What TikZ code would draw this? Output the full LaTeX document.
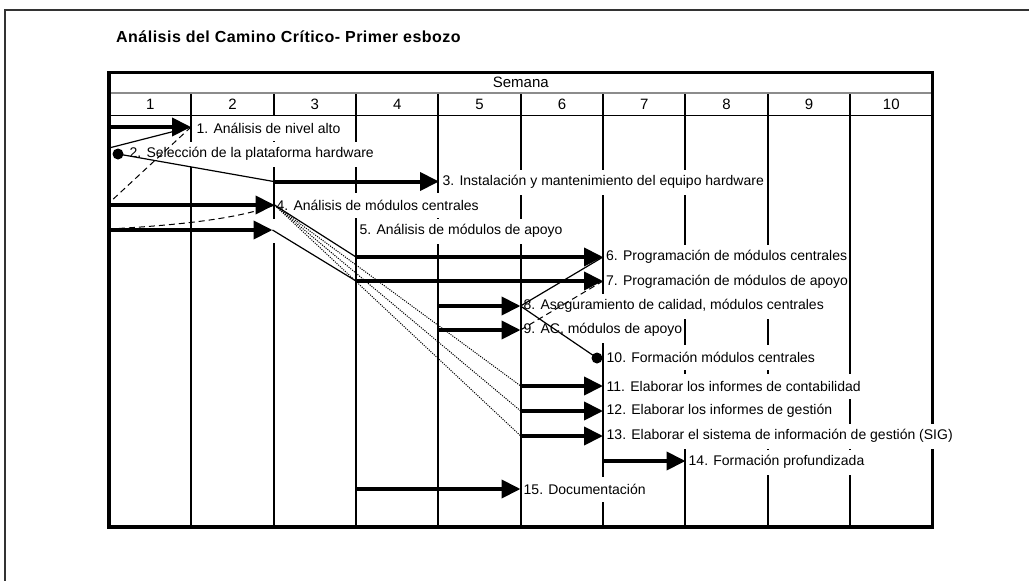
\documentclass[tikz,border=0pt]{standalone}
\usepackage{fontspec}
\setmainfont{Liberation Sans}
\usetikzlibrary{arrows.meta}
\begin{document}
\begin{tikzpicture}[x=1pt,y=-1pt,
  lab/.style={anchor=west,fill=white,inner xsep=1.5pt,inner ysep=0pt,minimum height=25pt,font=\fontsize{14}{16}\selectfont},
  head/.style={font=\fontsize{15}{17}\selectfont,inner sep=0pt},
  gridline/.style={line width=2pt},
  task/.style={line width=4pt,-{Triangle[length=19pt,width=18pt]}},
  dep/.style={line width=1.2pt},
  depdash/.style={line width=1pt,dash pattern=on 6pt off 4pt},
  depdot/.style={line width=1pt,dash pattern=on 1.1pt off 1.2pt},
  dotmark/.style={circle,fill=black,inner sep=0pt,minimum size=11pt}]
\useasboundingbox (0,0) rectangle (1029,581);
% page frame
\draw[line width=1.5pt,black!80] (5,581) -- (5,10) -- (1029,10);
% title
\node[anchor=west,inner sep=0pt,font=\bfseries\fontsize{16}{18}\selectfont\addfontfeature{LetterSpace=3}] (title) at (116,37) {Análisis del Camino Crítico- Primer esbozo};
% grid
\foreach \i in {1,...,9} \draw[gridline] ({109+82.35*\i},93) -- ({109+82.35*\i},527);
\draw[line width=3.5pt] (109,72.5) rectangle (932.5,527);
\fill[white] (272,218.5) rectangle (275.5,243);
\node[head] (semana) at (520.75,82) {Semana};
\foreach \i in {1,...,10} \node[head] (w\i) at ({109+82.35*(\i-0.5)},104.5) {\i};
% labels
\node[lab] (l1) at (195,128) {1. Análisis de nivel alto};
\node[lab] (l2) at (124,154) {\hspace{4pt}2. Selección de la plataforma hardware};
\node[lab] (l3) at (441,182) {3. Instalación y mantenimiento del equipo hardware};
\node[lab] (l4) at (275,205) {4. Análisis de módulos centrales};
\node[lab] (l5) at (358,231) {5. Análisis de módulos de apoyo};
\node[lab] (l6) at (604.5,257) {6. Programación de módulos centrales};
\node[lab] (l7) at (604.5,282) {7. Programación de módulos de apoyo};
\node[lab] (l8) at (522,306) {8. Aseguramiento de calidad, módulos centrales};
\node[lab] (l9) at (522,330) {9. AC, módulos de apoyo};
\node[lab] (l10) at (605,357) {10. Formación módulos centrales};
\node[lab] (l11) at (605,386) {11. Elaborar los informes de contabilidad};
\node[lab] (l12) at (605,411) {12. Elaborar los informes de gestión};
\node[lab] (l13) at (605,436) {13. Elaborar el sistema de información de gestión (SIG)};
\node[lab] (l14) at (687,462) {14. Formación profundizada};
\node[lab] (l15) at (522,489) {15. Documentación};
% header lines
\draw[line width=1.5pt,black!45] (110.75,93) -- (930.75,93);
\draw[line width=1pt] (110.75,115.5) -- (930.75,115.5);
% coordinates
\coordinate (s1) at (108,127);   \coordinate (e1) at (191,127);
\coordinate (s3) at (273.7,181.5); \coordinate (e3) at (439,181.5);
\coordinate (s4) at (108,205);   \coordinate (e4) at (274.5,205);
\coordinate (s5) at (108,230);   \coordinate (e5) at (272.5,230);
\coordinate (s6) at (356,257);   \coordinate (e6) at (603,257);
\coordinate (s7) at (356,281);   \coordinate (e7) at (603,281);
\coordinate (s8) at (438.4,306); \coordinate (e8) at (520.5,306);
\coordinate (s9) at (438.4,330); \coordinate (e9) at (520.5,330);
\coordinate (s11) at (520.75,386); \coordinate (e11) at (603,386);
\coordinate (s12) at (520.75,411); \coordinate (e12) at (603,411);
\coordinate (s13) at (520.75,436); \coordinate (e13) at (603,436);
\coordinate (s14) at (603.1,461); \coordinate (e14) at (685.5,461);
\coordinate (s15) at (356,489);  \coordinate (e15) at (520.5,489);
\coordinate (a2) at (109,148);
\coordinate (b4) at (109,203);
\coordinate (c5) at (109,229);
\node[dotmark] (d2) at (118,154) {};
\node[dotmark] (d10) at (597,358) {};
% dependencies
\draw[dep] (a2) -- (e1);
\draw[depdash] (e1) -- (b4);
\draw[dep] (d2.center) -- (s3);
\draw[depdash] (c5) .. controls (200,224) and (245,216) .. (e4);
\draw[dep] (e4) -- (s6);
\draw[dep] (e5) -- (s7);
\draw[depdot] (e4) -- (s11);
\draw[depdot] (e4) -- (s12);
\draw[depdot] (e4) -- (s13);
\draw[dep] (e8) -- (e6);
\draw[depdash] (e9) -- (e7);
\draw[dep] (e8) -- (d10.center);
% task arrows
\foreach \k in {1,3,4,5,6,7,8,9,11,12,13,14,15} \draw[task] (s\k) -- (e\k);
\end{tikzpicture}
\end{document}
